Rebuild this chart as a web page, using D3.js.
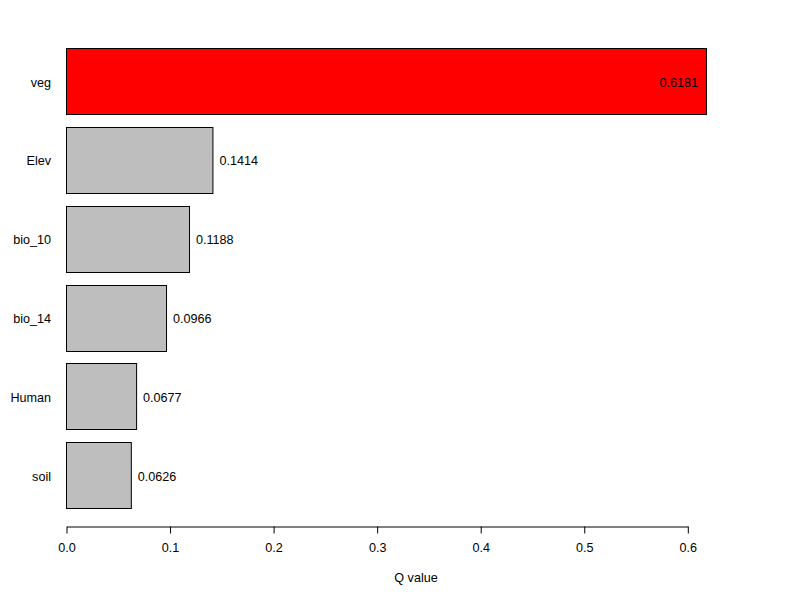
<!DOCTYPE html>
<html>
<head>
<meta charset="utf-8">
<script src="https://cdn.jsdelivr.net/npm/d3@7"></script>
<style>
body { margin: 0; background: #fff; }
text { font-family: "Liberation Sans", Arial, sans-serif; }
</style>
</head>
<body>
<svg id="chart" width="800" height="600"></svg>
<script>
const categories = ["veg", "Elev", "bio_10", "bio_14", "Human", "soil"];
const values = [0.6181, 0.1414, 0.1188, 0.0966, 0.0677, 0.0626];
const labels = ["0.6181", "0.1414", "0.1188", "0.0966", "0.0677", "0.0626"];
const tickValues = [0, 0.1, 0.2, 0.3, 0.4, 0.5, 0.6];
const tickLabels = ["0.0", "0.1", "0.2", "0.3", "0.4", "0.5", "0.6"];
const highlight = "veg";
const FS = 12.6;

const svg = d3.select("#chart");
const x = d3.scaleLinear().domain([0, 0.6]).range([66, 687.3]);
const y = d3.scaleBand().domain(categories).range([41.6, 514.4])
  .paddingInner(1/6).paddingOuter(1/12);

const data = categories.map((c, i) => ({ c, v: values[i], l: labels[i] }));

svg.selectAll("rect.bar").data(data).enter().append("rect")
  .attr("class", "bar")
  .attr("x", x(0) + 0.5)
  .attr("y", d => Math.round(y(d.c)) + 0.5)
  .attr("width", d => x(d.v) - x(0))
  .attr("height", d => Math.round(y.bandwidth()))
  .attr("fill", d => d.c === highlight ? "#ff0000" : "#bebebe")
  .attr("stroke", "#000").attr("stroke-width", 1);

svg.selectAll("text.val").data(data).enter().append("text")
  .attr("class", "val")
  .attr("x", d => d.c === highlight ? x(d.v) - 8 : x(d.v) + 7)
  .attr("y", d => y(d.c) + y.bandwidth() / 2)
  .attr("dy", "0.45em")
  .attr("text-anchor", d => d.c === highlight ? "end" : "start")
  .attr("font-size", FS)
  .attr("fill", "#000")
  .text(d => d.l);

svg.selectAll("text.cat").data(data).enter().append("text")
  .attr("class", "cat")
  .attr("x", 51)
  .attr("y", d => y(d.c) + y.bandwidth() / 2)
  .attr("dy", "0.45em")
  .attr("text-anchor", "end")
  .attr("font-size", FS)
  .text(d => d.c);

const axis = d3.axisBottom(x).tickValues(tickValues)
  .tickFormat((d, i) => tickLabels[i]).tickSize(7).tickSizeOuter(0).tickPadding(10);
const g = svg.append("g").attr("transform", "translate(0.5,526.5)").call(axis);
g.select(".domain").attr("stroke", "#000");
g.selectAll(".tick line").attr("stroke", "#000");
g.selectAll(".tick text").attr("font-size", FS).attr("font-family", "Liberation Sans, Arial, sans-serif").attr("fill", "#000");

svg.append("text").attr("x", 416).attr("y", 582).attr("text-anchor", "middle")
  .attr("font-size", FS).text("Q value");
</script>
</body>
</html>
